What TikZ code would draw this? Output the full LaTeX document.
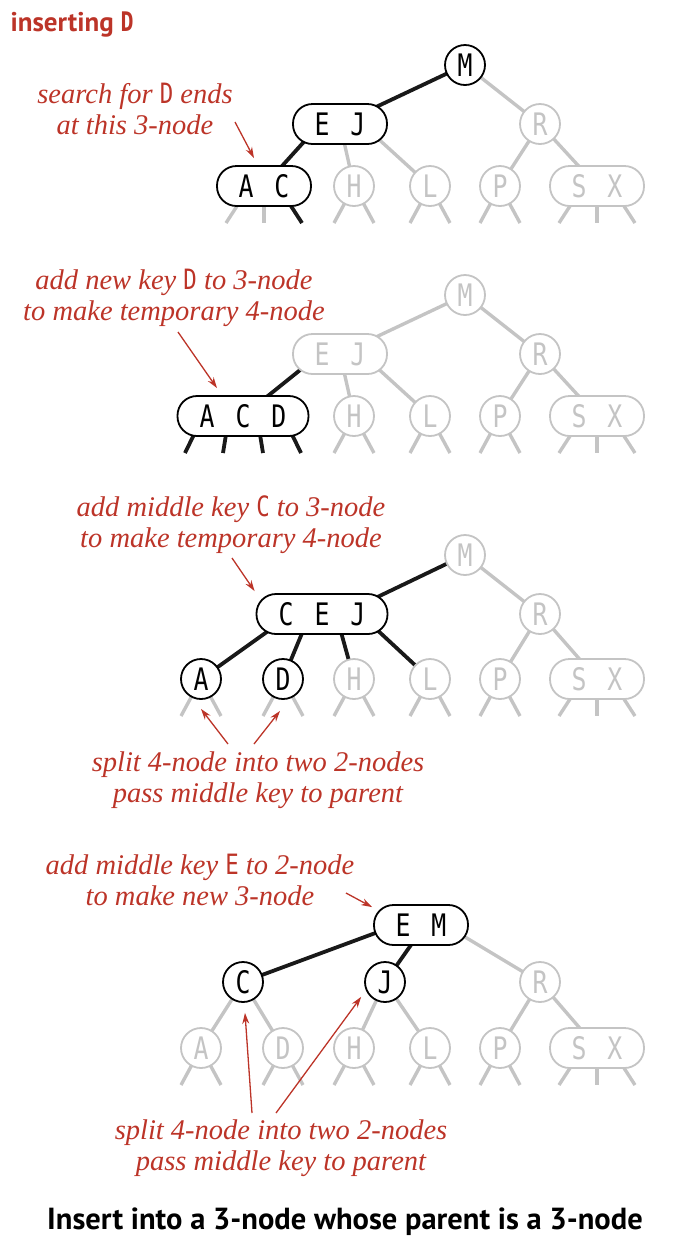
\documentclass[tikz,border=0pt]{standalone}
\usepackage{fontspec}
\setmainfont{Liberation Serif}
\newfontfamily\keyfont[FakeStretch=0.8]{DejaVu Sans Mono}
\newfontfamily\headfont{PT Sans}
\usetikzlibrary{arrows.meta,calc}
\definecolor{ared}{RGB}{188,52,40}
\definecolor{lgray}{RGB}{196,196,196}
\pgfdeclarelayer{bg}
\pgfsetlayers{bg,main}
\newcommand\kg{\hspace{21pt}}
\newcommand\nk[1]{{\upshape\keyfont\fontsize{28}{31}\selectfont #1}}
\begin{document}
\begin{tikzpicture}[x=1pt,y=-1pt,
  keyn/.style={draw, line width=1.8pt, fill=white, inner sep=0pt, font=\keyfont\fontsize{31}{31}\selectfont},
  two/.style={keyn, circle, minimum size=40pt},
  multi/.style={keyn, rectangle, rounded corners=19.5pt, minimum height=40pt, minimum width=94pt},
  wide/.style={multi, minimum width=131pt},
  blacknode/.style={draw=black, text=black},
  graynode/.style={draw=lgray, text=lgray},
  blk/.style={line width=3.8pt, draw=black!90},
  gry/.style={line width=3.4pt, draw=lgray},
  note/.style={text=ared, align=center, font=\itshape\fontsize{28.5}{31}\selectfont},
  ann/.style={draw=ared, line width=1.3pt, -{Stealth[length=11pt,width=7pt]}},
]
\useasboundingbox (0,0) rectangle (684,1254);

% ---------- panel 1 ----------
\node[anchor=west, text=ared, font=\headfont\bfseries\fontsize{27}{27}\selectfont] (title) at (7,25) {inserting {\keyfont\bfseries D}};
\node[two, blacknode] (m1) at (465,65) {M};
\node[multi, blacknode] (ej1) at (340,124) {E\kg J};
\node[two, graynode] (r1) at (540,124) {R};
\node[multi, blacknode] (ac1) at (264,186) {A\kg C};
\node[two, graynode] (h1) at (354,186) {H};
\node[two, graynode] (l1) at (430,186) {L};
\node[two, graynode] (p1) at (500,186) {P};
\node[multi, graynode] (sx1) at (597,186) {S\kg X};

% ---------- panel 2 ----------
\node[two, graynode] (m2) at (465,295) {M};
\node[multi, graynode] (ej2) at (340,354) {E\kg J};
\node[two, graynode] (r2) at (540,354) {R};
\node[wide, blacknode] (acd2) at (243,416) {A\kg C\kg D};
\node[two, graynode] (h2) at (354,416) {H};
\node[two, graynode] (l2) at (430,416) {L};
\node[two, graynode] (p2) at (500,416) {P};
\node[multi, graynode] (sx2) at (597,416) {S\kg X};

% ---------- panel 3 ----------
\node[two, graynode] (m3) at (465,555) {M};
\node[wide, blacknode] (cej3) at (322,614) {C\kg E\kg J};
\node[two, graynode] (r3) at (540,614) {R};
\node[two, blacknode] (a3) at (201,679) {A};
\node[two, blacknode] (d3) at (283,679) {D};
\node[two, graynode] (h3) at (354,679) {H};
\node[two, graynode] (l3) at (430,679) {L};
\node[two, graynode] (p3) at (500,679) {P};
\node[multi, graynode] (sx3) at (597,679) {S\kg X};

% ---------- panel 4 ----------
\node[multi, blacknode] (em4) at (421,925) {E\kg M};
\node[two, blacknode] (c4) at (243,982) {C};
\node[two, blacknode] (j4) at (385,982) {J};
\node[two, graynode] (r4) at (540,982) {R};
\node[two, graynode] (a4) at (201,1048) {A};
\node[two, graynode] (d4) at (283,1048) {D};
\node[two, graynode] (h4) at (354,1048) {H};
\node[two, graynode] (l4) at (430,1048) {L};
\node[two, graynode] (p4) at (500,1048) {P};
\node[multi, graynode] (sx4) at (597,1048) {S\kg X};

\begin{pgfonlayer}{bg}
% panel 1
\draw[blk] (m1.center) -- (ej1.center);
\draw[gry] (m1.center) -- (r1.center);
\draw[blk] ([xshift=-20pt]ej1.center) -- (ac1.center);
\draw[gry] (ej1.center) -- (h1.center);
\draw[gry] ([xshift=22pt]ej1.center) -- (l1.center);
\draw[gry] (r1.center) -- (p1.center);
\draw[gry] (r1.center) -- (sx1.center);
\draw[gry] ([xshift=-14pt]ac1.center) -- ++(-24,37);
\draw[gry] (ac1.center) -- ++(0,37);
\draw[blk] ([xshift=14pt]ac1.center) -- ++(24,37);
% panel 2
\draw[gry] (m2.center) -- (ej2.center);
\draw[gry] (m2.center) -- (r2.center);
\draw[blk] ([xshift=-20pt]ej2.center) -- (acd2.center);
\draw[gry] (ej2.center) -- (h2.center);
\draw[gry] ([xshift=22pt]ej2.center) -- (l2.center);
\draw[gry] (r2.center) -- (p2.center);
\draw[gry] (r2.center) -- (sx2.center);
\draw[blk] ([xshift=-40pt]acd2.center) -- ++(-18,37);
\draw[blk] ([xshift=-14pt]acd2.center) -- ++(-6,37);
\draw[blk] ([xshift=14pt]acd2.center) -- ++(6,37);
\draw[blk] ([xshift=40pt]acd2.center) -- ++(18,37);
% panel 3
\draw[blk] (m3.center) -- ([xshift=20pt]cej3.center);
\draw[gry] (m3.center) -- (r3.center);
\draw[blk] ([xshift=-30pt]cej3.center) -- (a3.center);
\draw[blk] ([xshift=-12pt]cej3.center) -- (d3.center);
\draw[blk] ([xshift=14pt]cej3.center) -- (h3.center);
\draw[blk] ([xshift=38pt]cej3.center) -- (l3.center);
\draw[gry] (r3.center) -- (p3.center);
\draw[gry] (r3.center) -- (sx3.center);
% panel 4
\draw[blk] ([xshift=-24pt]em4.center) -- (c4.center);
\draw[blk] ([xshift=4pt]em4.center) -- (j4.center);
\draw[gry] ([xshift=24pt]em4.center) -- (r4.center);
\draw[gry] (c4.center) -- (a4.center);
\draw[gry] (c4.center) -- (d4.center);
\draw[gry] (j4.center) -- (h4.center);
\draw[gry] (j4.center) -- (l4.center);
\draw[gry] (r4.center) -- (p4.center);
\draw[gry] (r4.center) -- (sx4.center);
% gray stubs
\foreach \n in {h1,l1,p1,h2,l2,p2,a3,d3,h3,l3,p3,a4,d4,h4,l4,p4}{
  \draw[gry] (\n.center) -- ++(-20,37);
  \draw[gry] (\n.center) -- ++(20,37);
}
\foreach \n in {sx1,sx2,sx3,sx4}{
  \draw[gry] ([xshift=-14pt]\n.center) -- ++(-24,37);
  \draw[gry] (\n.center) -- ++(0,37);
  \draw[gry] ([xshift=14pt]\n.center) -- ++(24,37);
}
\end{pgfonlayer}

% ---------- notes ----------
\node[note] (n1) at (135,109) {search for \nk{D} ends\\at this 3-node};
\coordinate (s1) at (235,122);
\draw[ann] (s1) -- ([xshift=-10pt,yshift=7pt]ac1.north);

\node[note] (n2) at (174,298) {add new key \nk{D} to 3-node\\to make temporary 4-node};
\coordinate (s2) at (178,332);
\draw[ann] (s2) -- ([xshift=-26pt,yshift=7pt]acd2.north);

\node[note] (n3) at (231,525) {add middle key \nk{C} to 3-node\\to make temporary 4-node};
\coordinate (s3) at (232,558);
\draw[ann] (s3) -- ([xshift=-1pt,yshift=2pt]cej3.north west);

\node[note] (n3b) at (258,780) {split 4-node into two 2-nodes\\pass middle key to parent};
\coordinate (s3a) at (228,744);
\coordinate (s3b) at (254,744);
\draw[ann] (s3a) -- ([yshift=-9pt]a3.south);
\draw[ann] (s3b) -- ([xshift=-3pt,yshift=-11pt]d3.south);

\node[note] (n4) at (200,880) {add middle key \nk{E} to 2-node\\to make new 3-node};
\coordinate (s4) at (346,893);
\draw[ann] (s4) -- ([xshift=-1pt,yshift=-3pt]em4.north west);

\node[note] (n4b) at (281,1148) {split 4-node into two 2-nodes\\pass middle key to parent};
\coordinate (s4a) at (252,1113);
\coordinate (s4b) at (276,1113);
\draw[ann] (s4a) -- ([xshift=2pt,yshift=-10pt]c4.south);
\draw[ann] (s4b) -- ([xshift=-9pt]j4.south west);

\node[font=\headfont\bfseries\fontsize{30.5}{30.5}\selectfont] (cap) at (345,1222) {Insert into a 3-node whose parent is a 3-node};
\end{tikzpicture}
\end{document}
